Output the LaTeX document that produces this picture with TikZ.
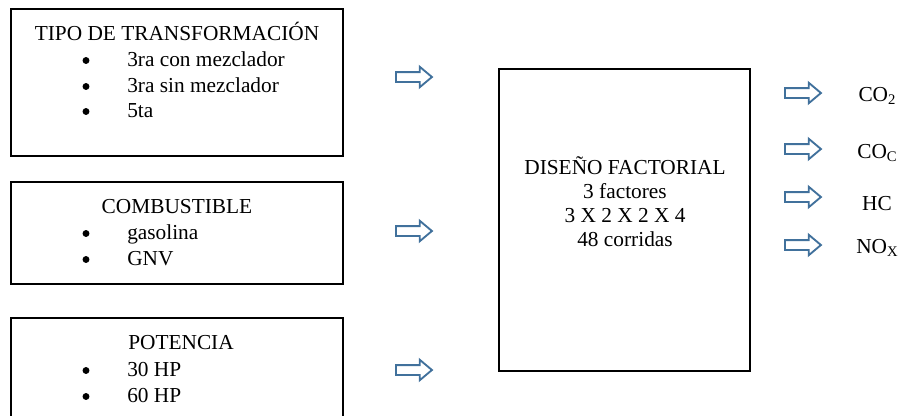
\documentclass[tikz,border=0pt]{standalone}
\usepackage{fontspec}
\setmainfont{Liberation Serif}
\usepackage{xcolor}
\usepackage{tikz}
\usetikzlibrary{shapes}
\definecolor{flechaazul}{RGB}{65,113,156}
\newcommand{\abajo}[1]{\raisebox{-0.4ex}{\fontsize{11}{12}\selectfont #1}}
\tikzset{
  flecha/.style={single arrow, draw=flechaazul, fill=white, line width=1.4pt,
    minimum height=27pt, inner sep=3pt, single arrow head extend=4pt,
    single arrow tip angle=80},
  texto/.style={anchor=base, inner sep=0.75pt},
  vineta/.style={circle, fill=black, inner sep=0pt, minimum size=5.2pt}
}

\begin{document}
\begin{tikzpicture}[x=0.75pt,y=-0.75pt,font=\fontsize{16}{19}\selectfont]
\useasboundingbox (0,0) rectangle (901,415);
\clip (0,0) rectangle (901,415);
% cajas de la izquierda
\draw [line width=0.8pt] (11,9) rectangle (343,156) ;
\draw [line width=0.8pt] (11,182) rectangle (343,284) ;
\draw [line width=0.8pt] (11,318) rectangle (343,440) ;
% caja central
\draw [line width=0.8pt] (499,69) rectangle (750,371) ;

\node (tipo) at (177,40) [texto] {TIPO DE TRANSFORMACIÓN};
\node (b1) at (86,60.5) [vineta] {};
\node (t1) at (126,66) [texto][anchor=base west] {3ra con mezclador};
\node (b2) at (86,86.5) [vineta] {};
\node (t2) at (126,92) [texto][anchor=base west] {3ra sin mezclador};
\node (b3) at (86,111.5) [vineta] {};
\node (t3) at (126,117) [texto][anchor=base west] {5ta};

\node (comb) at (177,213) [texto] {COMBUSTIBLE};
\node (b4) at (86,233.5) [vineta] {};
\node (c1) at (126,239) [texto][anchor=base west] {gasolina};
\node (b5) at (86,259.5) [vineta] {};
\node (c2) at (126,265) [texto][anchor=base west] {GNV};

\node (pot) at (127,349) [texto][anchor=base west] {POTENCIA};
\node (b6) at (86,370.5) [vineta] {};
\node (p1) at (126,376) [texto][anchor=base west] {30 HP};
\node (b7) at (86,396.5) [vineta] {};
\node (p2) at (126,402) [texto][anchor=base west] {60 HP};

\node (dis) at (625,174) [texto] {DISEÑO FACTORIAL};
\node (fac) at (625,198) [texto] {3 factores};
\node (niv) at (625,222) [texto] {3 X 2 X 2 X 4};
\node (cor) at (625,246) [texto] {48 corridas};

% flechas de entrada
\node (fe1) at (411,77) [flecha] {};
\node (fe2) at (411,231) [flecha] {};
\node (fe3) at (411,370) [flecha] {};
% flechas de salida
\node (fs1) at (800,93) [flecha] {};
\node (fs2) at (800,149) [flecha] {};
\node (fs3) at (800,197) [flecha] {};
\node (fs4) at (800,245) [flecha] {};

\node (co2) at (877,101) [texto] {CO\abajo{2}};
\node (coc) at (877,158) [texto] {CO\abajo{C}};
\node (hc) at (877,210) [texto] {HC};
\node (nox) at (877,253) [texto] {NO\abajo{X}};
\end{tikzpicture}
\end{document}
